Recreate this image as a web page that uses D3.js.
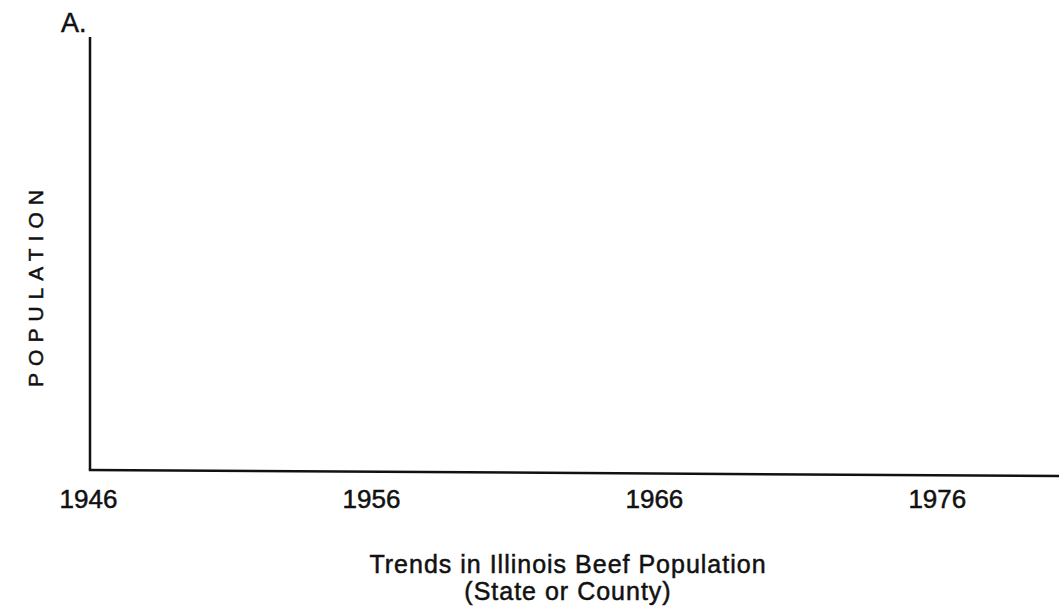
<!DOCTYPE html>
<html>
<head>
<meta charset="utf-8">
<script src="https://cdn.jsdelivr.net/npm/d3@7"></script>
<style>
  html, body { margin: 0; padding: 0; background: #fff; }
  svg { display: block; }
  text { font-family: "Liberation Sans", Arial, sans-serif; fill: #111; stroke: #111; stroke-width: 0.5; }
</style>
</head>
<body>
<svg id="chart"></svg>
<script>
// blank worksheet graph: axes only, no plotted series
const years = [1946, 1956, 1966, 1976];
const yearDomain = [1946, 1980];
const panelLabel = "A.";
const yLabel = "POPULATION";
const titleLines = ["Trends in Illinois Beef Population", "(State or County)"];

const width = 1059, height = 612;
const margin = { top: 37, left: 90, right: 0, bottom: 142 };

const svg = d3.select("#chart").attr("width", width).attr("height", height);

const x = d3.scaleLinear()
  .domain(yearDomain)
  .range([margin.left - 2, 1050]);

const y = d3.scaleLinear()
  .domain([0, 1])
  .range([height - margin.bottom, margin.top]);

// y axis (no ticks)
svg.append("line")
  .attr("x1", margin.left).attr("x2", margin.left)
  .attr("y1", y(1)).attr("y2", y(0))
  .attr("stroke", "#111").attr("stroke-width", 2.5);

// x axis line runs to the page edge (scan is slightly skewed)
svg.append("line")
  .attr("x1", margin.left - 1.2).attr("x2", width)
  .attr("y1", y(0)).attr("y2", y(0) + 6)
  .attr("stroke", "#111").attr("stroke-width", 2.5);

const xAxis = svg.append("g")
  .attr("class", "xAxis")
  .attr("transform", `translate(0,${y(0)})`)
  .call(d3.axisBottom(x).tickValues(years).tickSize(0).tickPadding(20).tickFormat(d3.format("d")));
xAxis.select(".domain").remove();
xAxis.selectAll("text")
  .style("font-size", "26px")
  .style("font-family", "'Liberation Sans', Arial, sans-serif")
  .attr("fill", "#111")
  .attr("stroke", "#111")
  .attr("stroke-width", 0.7);

svg.append("text")
  .attr("x", 61).attr("y", 32)
  .style("font-size", "27px")
  .text(panelLabel);

svg.append("text")
  .attr("transform", `translate(43,285) rotate(-90)`)
  .attr("text-anchor", "middle")
  .style("font-size", "21px")
  .style("letter-spacing", "7px")
  .text(yLabel);

svg.selectAll(".title")
  .data(titleLines)
  .enter()
  .append("text")
  .attr("class", "title")
  .attr("x", 568)
  .attr("y", (d, i) => 573 + i * 27)
  .attr("text-anchor", "middle")
  .style("font-size", "25px")
  .style("letter-spacing", "1px")
  .text(d => d);
</script>
</body>
</html>
